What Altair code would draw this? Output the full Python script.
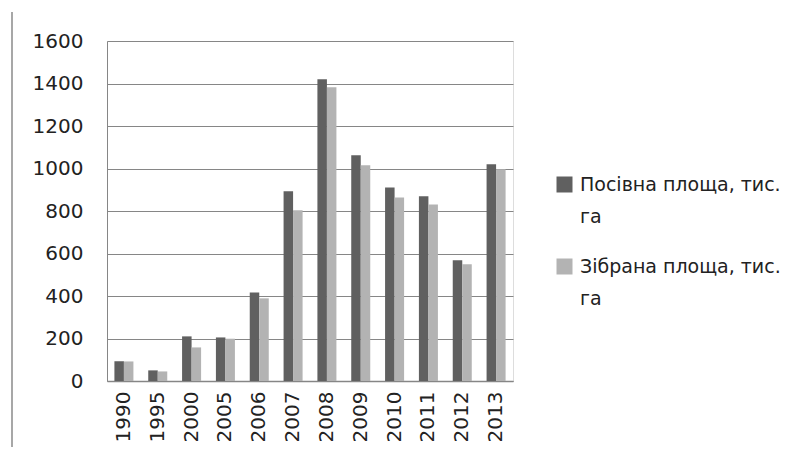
import altair as alt
import pandas as pd

years = ["1990", "1995", "2000", "2005", "2006", "2007", "2008", "2009", "2010", "2011", "2012", "2013"]
series = ["Посівна площа, тис. га", "Зібрана площа, тис. га"]
sown = [93, 50, 210, 205, 417, 893, 1420, 1062, 911, 869, 568, 1020]
harvested = [92, 45, 158, 199, 389, 803, 1382, 1015, 864, 831, 549, 996]
colors = ["#606060", "#b3b3b3"]

rows = []
for i, y in enumerate(years):
    rows.append({"year": y, "series": series[0], "value": sown[i]})
    rows.append({"year": y, "series": series[1], "value": harvested[i]})
df = pd.DataFrame(rows)

FONT = "DejaVu Sans"
GRID = "#868686"

bars = alt.Chart(df).mark_bar(strokeWidth=0).encode(
    x=alt.X("year:N", sort=years, title=None,
            scale=alt.Scale(paddingInner=0.438, paddingOuter=0.219),
            axis=alt.Axis(labelAngle=-90, labelFontSize=20, labelFont=FONT,
                          labelColor="#222222", labelPadding=10, ticks=False,
                          domainColor=GRID, domainWidth=1.5, grid=False)),
    xOffset=alt.XOffset("series:N", sort=series, scale=alt.Scale(domain=series)),
    y=alt.Y("value:Q", title=None,
            scale=alt.Scale(domain=[0, 1600], nice=False),
            axis=alt.Axis(values=list(range(0, 1601, 200)), format="d",
                          labelFontSize=20, labelFont=FONT,
                          labelColor="#222222", labelPadding=24,
                          ticks=False, domainColor=GRID, domainWidth=1,
                          gridColor=GRID, gridWidth=1)),
    color=alt.Color("series:N", sort=series,
                    scale=alt.Scale(domain=series, range=colors),
                    legend=alt.Legend(orient="none", legendX=448, legendY=134,
                                      title=None, symbolType="square",
                                      symbolSize=256, symbolStrokeWidth=0,
                                      symbolOpacity=1, labelFont=FONT,
                                      labelFontSize=19, labelColor="#222222",
                                      labelOffset=6, labelLimit=400,
                                      labelBaseline="middle", rowPadding=30,
                                      padding=0,
                                      labelExpr="[slice(datum.label, 0, -3), slice(datum.label, -2)]")),
)

frame = alt.Chart(alt.Data(values=[{}])).mark_rule(color="#8a8a8a", strokeWidth=1.5).encode(
    x=alt.value(-95), y=alt.value(-29), y2=alt.value(420)
)

chart = alt.layer(bars, frame).properties(
    width=406, height=340,
    autosize=alt.AutoSizeParams(type="none"),
    padding={"left": 99, "top": 33, "right": 291, "bottom": 66},
).configure_view(stroke=None).configure(
    style={"guide-label": {"lineHeight": 32}}
)

chart.save("out.html", embed_options={"renderer": "svg", "actions": False})
